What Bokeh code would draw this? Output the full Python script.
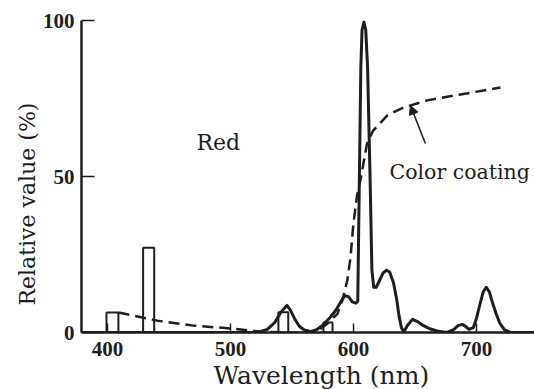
import math
from bokeh.plotting import figure
from bokeh.models import Range1d, Label, Arrow, NormalHead, FixedTicker, Title
from bokeh.embed import file_html
from bokeh.resources import INLINE

# Emission spectrum (solid line): wavelength (nm), relative value (%)
spec_wl = [380, 522, 530, 536, 541, 546, 549, 552, 556, 560, 565, 570, 575, 581, 586,
           590, 593, 596, 599, 602, 603.5, 604.5, 606, 607, 608.5, 610, 611.5, 613.5,
           615, 616.5, 618.5, 621, 624, 627, 629.5, 632.5, 635, 637, 639, 641, 644,
           648, 652, 657, 662, 668, 676, 681, 685, 688.5, 691, 694, 697.5, 700, 703,
           705.5, 708, 710.5, 713, 716, 719, 723, 728, 747]
spec_val = [0, 0, 1.0, 3.2, 6.5, 8.7, 7.0, 4.5, 2.0, 0.8, 0.3, 0.9, 2.3, 4.8, 7.3,
            10.0, 11.8, 11.5, 9.8, 9.4, 10.0, 40, 85, 97, 99.5, 97, 85, 50,
            20, 14.5, 14.5, 16.5, 19, 20, 19.3, 16, 11, 5.5, 1.5, 0.2, 2.3,
            4.2, 3.5, 2.2, 1.2, 0.5, 0, 0.8, 2.2, 2.6, 2.0, 1.0, 1.6, 4.5, 9.3,
            13, 14.5, 13, 9.6, 6.0, 3.0, 0.8, 0, 0]

# Mercury lines (rectangles)
hg_left = [399.2, 429.0, 539.0, 575.6]
hg_right = [408.9, 438.0, 547.0, 583.0]
hg_top = [6.4, 27.2, 6.5, 3.2]

# Color coating transmission (dashed line)
coat_wl = [409, 440.6, 470, 500, 524, 545, 566, 572, 579, 587, 591, 595, 597.6, 600,
           603, 606, 611, 616, 627.6, 640.6, 660, 687, 719.5]
coat_val = [6.4, 3.8, 2.2, 1.3, 0.3, 0, 0, 0.8, 2.9, 6.0, 10.3, 16.7, 24, 35,
            44, 49.5, 60.5, 64.7, 69.6, 72.1, 74.4, 76.3, 78.5]

x_ticks = [400, 500, 600, 700]
y_ticks = [0, 50, 100]

INK = "#1e1e1e"
SERIF = "DejaVu Serif"

p = figure(width=534, height=389, output_backend="svg", toolbar_location=None,
           x_range=Range1d(378.9, 747.2), y_range=Range1d(0, 100),
           min_border_left=81, min_border_right=0, min_border_top=20,
           min_border_bottom=57)
p.grid.visible = False
p.outline_line_color = None
p.background_fill_color = "white"
p.border_fill_color = "white"

for ax in (p.xaxis[0], p.yaxis[0]):
    ax.axis_line_width = 2.5
    ax.axis_line_color = INK
    ax.major_tick_line_color = INK
    ax.major_tick_line_width = 1.5
    ax.minor_tick_line_color = None
    ax.major_tick_out = 0
    ax.major_label_text_font = "Liberation Serif"
    ax.major_label_text_font_style = "bold"
    ax.major_label_text_font_size = "21px"
    ax.major_label_text_color = INK

p.xaxis.ticker = FixedTicker(ticks=x_ticks)
p.xaxis.major_tick_in = 9
p.xaxis.major_label_standoff = 9
p.yaxis.ticker = FixedTicker(ticks=y_ticks)
p.yaxis.major_tick_in = 13
p.yaxis.major_label_standoff = 7

# Axis titles as side-panel titles
p.add_layout(Title(text="Relative value (%)", text_font=SERIF, text_font_size="22px",
                   text_font_style="normal", text_color=INK, align="left",
                   offset=27, standoff=0), "left")
p.add_layout(Title(text="Wavelength (nm)", text_font=SERIF, text_font_size="25px",
                   text_font_style="normal", text_color=INK, align="left",
                   offset=132, standoff=0), "below")

# Mercury line rectangles
p.quad(left=hg_left, right=hg_right, top=hg_top, bottom=[0] * len(hg_top),
       fill_color=None, line_color=INK, line_width=2)

# Spectrum
p.line(spec_wl, spec_val, line_color=INK, line_width=3, line_join="round")

# Coating
p.line(coat_wl, coat_val, line_color=INK, line_width=2.5, line_dash="11 6")

# Arrow pointing to coating curve
p.add_layout(Arrow(end=NormalHead(size=9, fill_color=INK, line_color=INK),
                   x_start=658.5, y_start=60.6, x_end=646.3, y_end=72.8,
                   line_color=INK, line_width=1.5))

p.add_layout(Label(x=472.4, y=60.9, text="Red", text_font=SERIF,
                   text_font_size="22px", text_color=INK,
                   text_baseline="alphabetic"))
p.add_layout(Label(x=629.3, y=51.3, text="Color coating", text_font=SERIF,
                   text_font_size="20.5px", text_color=INK,
                   text_baseline="alphabetic"))

open("out.html", "w").write(file_html(p, INLINE))
